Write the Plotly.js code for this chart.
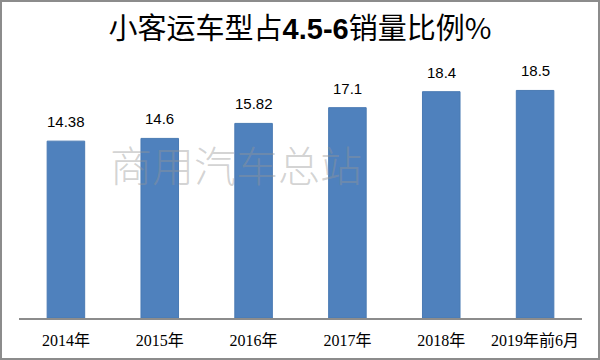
<!DOCTYPE html>
<html><head><meta charset="utf-8">
<script src="https://cdn.plot.ly/plotly-3.0.1.min.js"></script>
<style>html,body{margin:0;padding:0;background:#fff;}#c{width:596px;height:356px;border:2px solid #8c8c8c;}</style>
</head><body><div id="c"></div>
<script>
const categories = ['2014年','2015年','2016年','2017年','2018年','2019年前6月'];
const values = [14.38, 14.6, 15.82, 17.1, 18.4, 18.5];
const valueLabels = ['14.38','14.6','15.82','17.1','18.4','18.5'];

const trace = {
  type: 'bar', x: categories, y: values,
  marker: {color: '#4F81BD', line: {color: '#4a7ab3', width: 1}},
  hoverinfo: 'none'
};
const labelAnns = categories.map((c, i) => ({
  x: c, y: values[i], xref: 'x', yref: 'y', text: valueLabels[i], showarrow: false,
  xanchor: 'center', yanchor: 'bottom', yshift: 9,
  font: {family: 'Liberation Sans, Arial, sans-serif', size: 15, color: '#000'}
}));
const layout = {
  width: 596, height: 356,
  margin: {l: 17, r: 16, t: 70, b: 40},
  paper_bgcolor: '#fff', plot_bgcolor: '#fff',
  bargap: 0.6, showlegend: false,
  title: {text: '小客运车型占<b style="font-family:Liberation Sans">4.5-6</b>销量比例%', x: 0.5, xanchor: 'center', y: 0.925, yanchor: 'middle',
    font: {family: 'Noto Sans CJK SC, sans-serif', size: 29, color: '#000'}},
  xaxis: {type: 'category', showline: true, linecolor: '#8c8c8c', linewidth: 1.5, ticks: '', showgrid: false,
    ticklabelstandoff: 7,
    tickfont: {family: 'Liberation Serif, Noto Sans CJK SC, serif', size: 16, color: '#000'}},
  yaxis: {range: [0, 20], visible: false, showgrid: false, zeroline: false},
  annotations: labelAnns.concat([{text: '商用汽车总站', xref: 'paper', yref: 'paper', x: 0.385, y: 0.63, xanchor: 'center', yanchor: 'middle',
    showarrow: false, font: {family: 'Noto Sans CJK SC, serif', size: 42, weight: 300, color: 'rgba(150,150,150,0.42)'}}])
};
Plotly.newPlot('c', [trace], layout, {displayModeBar: false, staticPlot: true});
</script></body></html>
